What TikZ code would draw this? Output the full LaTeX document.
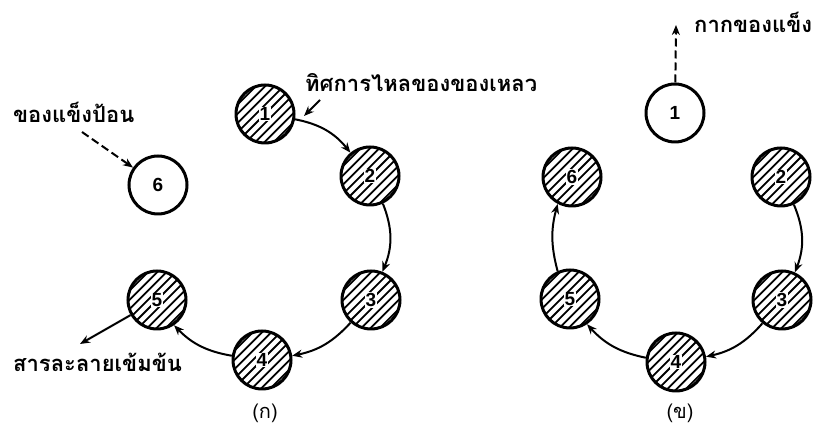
\documentclass[tikz,border=0pt]{standalone}
\usepackage{fontspec}
\setsansfont{Liberation Sans}
\newfontfamily\thaifont[Script=Thai]{Loma}
\usetikzlibrary{arrows.meta}

\begin{document}
\begin{tikzpicture}[x=1pt,y=1pt,
  stage/.style={circle,draw=black,line width=3pt,minimum size=58pt,inner sep=0pt,
    font=\sffamily\bfseries\fontsize{19}{19}\selectfont},
  hatched/.style={stage,path picture={
      \foreach \k in {-6,...,6}
        \draw[line width=1.8pt]
          ([xshift=\k*9.2pt-40pt,yshift=-40pt]path picture bounding box.center)
          -- ++(80pt,80pt);}},
  digit/.style={fill=white,inner sep=0.8pt,font=\sffamily\bfseries\fontsize{19}{19}\selectfont},
  flow/.style={line width=2pt,-{Stealth[length=10pt,width=8pt]}},
  solidflow/.style={flow,dash pattern=on 8pt off 4pt},
  label/.style={font=\thaifont\bfseries\fontsize{22}{22}\selectfont,inner sep=0pt},
  caption/.style={font=\thaifont\fontsize{20}{20}\selectfont,inner sep=0pt}]
\useasboundingbox (0,0) rectangle (814,430);

% ---- arrangement (a): stage 6 is being refilled with fresh solid ----
\node[hatched] (a1) at (265,316) {};
\node[hatched] (a2) at (370,254) {};
\node[hatched] (a3) at (371,130) {};
\node[hatched] (a4) at (262,70) {};
\node[hatched] (a5) at (157,130) {};
\node[stage]   (a6) at (158,245) {};
\foreach \n/\t in {a1/1,a2/2,a3/3,a4/4,a5/5}
  \node[digit] at (\n) {\t};
\node[font=\sffamily\bfseries\fontsize{19}{19}\selectfont] at (a6) {6};

\draw[flow] (a1.-10) to[bend left=20] (a2.130);
\draw[flow] (a2.-65) to[bend left=22] (a3.68);
\draw[flow] (a3.-132) to[bend left=18] (a4.8);
\draw[flow] (a4.172) to[bend left=18] (a5.-56);

\node[label,anchor=base west] (feed) at (13,307) {ของแข็งป้อน};
\coordinate (feedstart) at (82,298);
\draw[solidflow] (feedstart) -- (a6);

\node[label,anchor=base west] (dir) at (305,338) {ทิศการไหลของของเหลว};
\coordinate (dirstart) at (320,330);
\coordinate (dirtip) at (304,314);
\draw[flow] (dirstart) -- (dirtip);

\coordinate (out5) at (80,86);
\draw[flow] (a5) -- (out5);
\node[label,anchor=base west] (conc) at (13,58) {สารละลายเข้มข้น};

\node[caption,anchor=base] (capa) at (265,11) {(ก)};

% ---- arrangement (b): stage 1 is emptied of spent solid ----
\node[stage]   (b1) at (675,317) {};
\node[hatched] (b2) at (781,253) {};
\node[hatched] (b3) at (782,130) {};
\node[hatched] (b4) at (676,68) {};
\node[hatched] (b5) at (570,131) {};
\node[hatched] (b6) at (572,253) {};
\node[font=\sffamily\bfseries\fontsize{19}{19}\selectfont] at (b1) {1};
\foreach \n/\t in {b2/2,b3/3,b4/4,b5/5,b6/6}
  \node[digit] at (\n) {\t};

\draw[flow] (b2.-65) to[bend left=22] (b3.65);
\draw[flow] (b3.-130) to[bend left=18] (b4.10);
\draw[flow] (b4.172) to[bend left=18] (b5.-56);
\draw[flow] (b5.114) to[bend left=15] (b6.-118);

\coordinate (residue) at (676,405);
\draw[solidflow] (b1) -- (residue);
\node[label,anchor=base west] (res) at (694,397) {กากของแข็ง};

\node[caption,anchor=base] (capb) at (680,11) {(ข)};
\end{tikzpicture}
\end{document}
